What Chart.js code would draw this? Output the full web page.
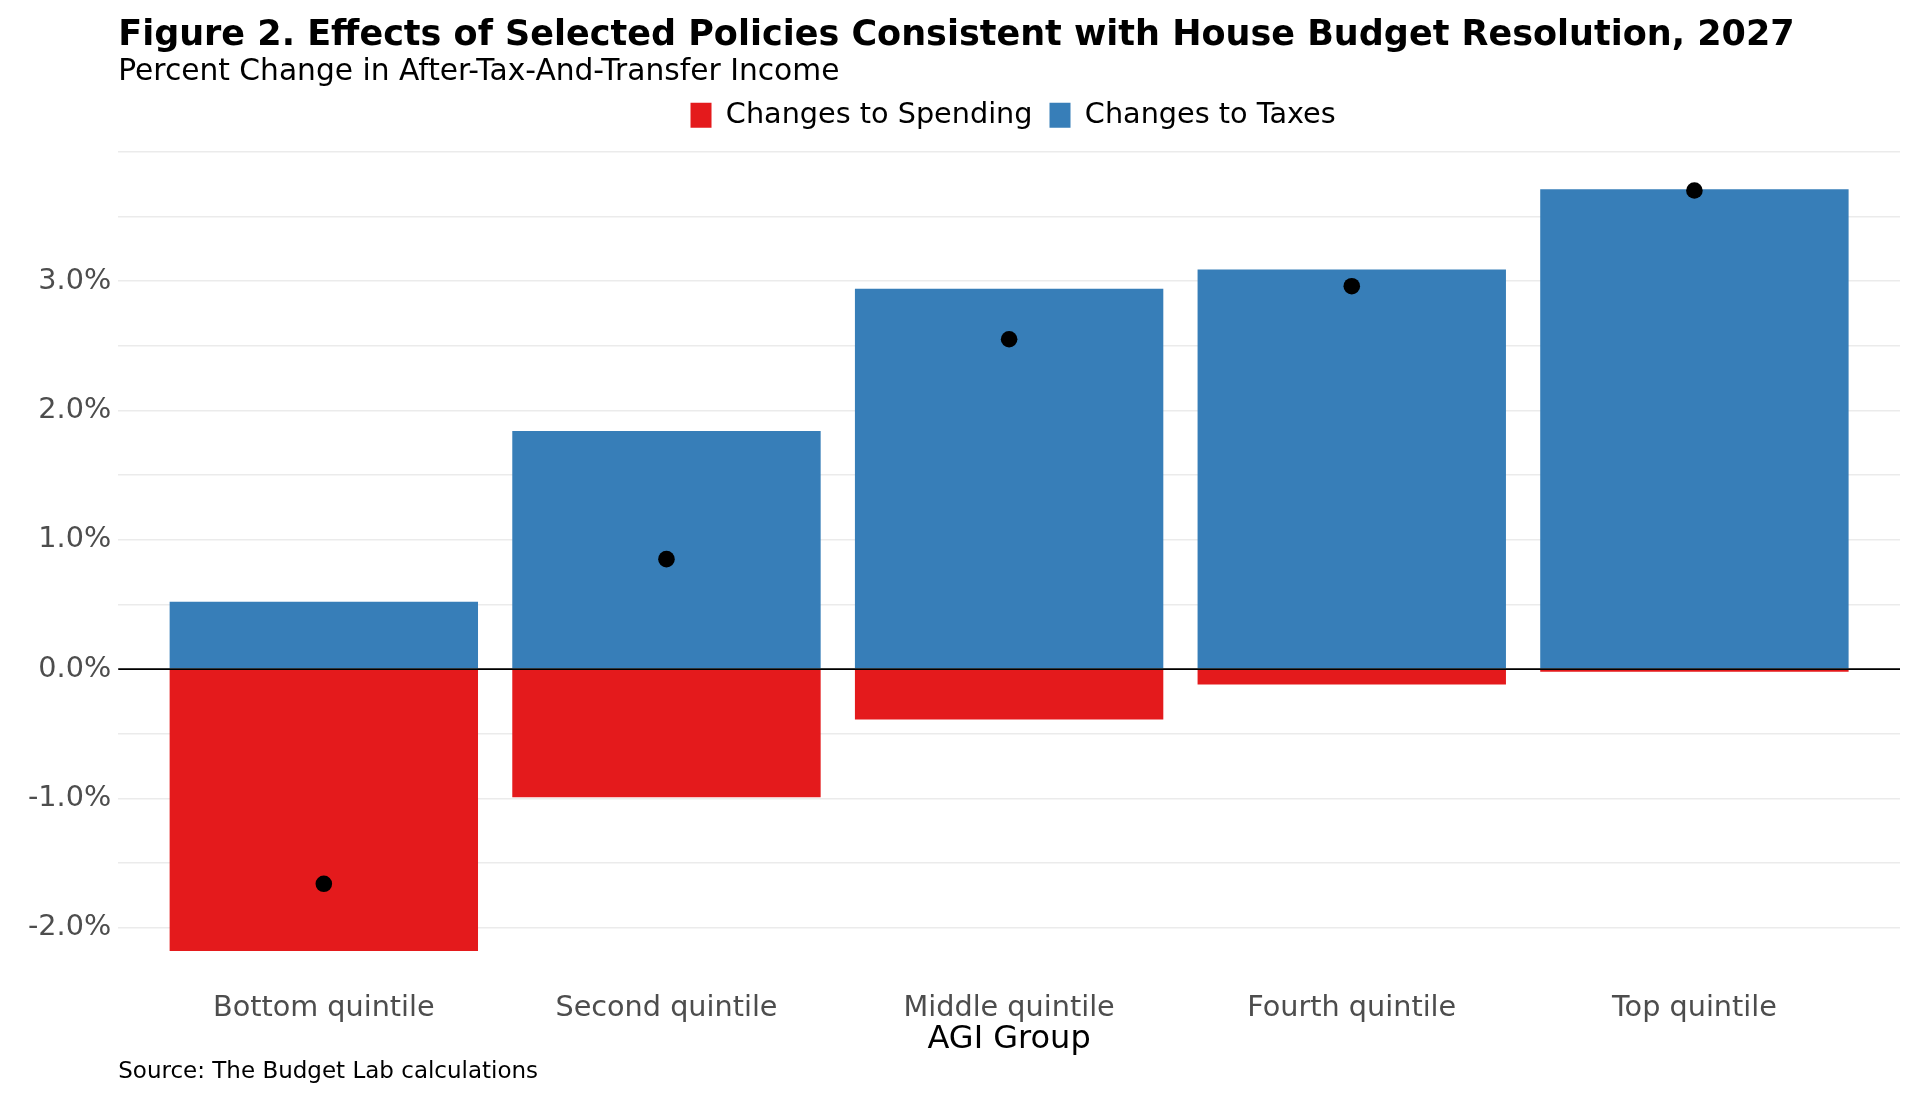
<!DOCTYPE html>
<html lang="en">
<head>
  <meta charset="UTF-8">
  <title>Figure 2. Effects of Selected Policies Consistent with House Budget Resolution, 2027</title>
  <script src="https://cdn.jsdelivr.net/npm/chart.js"></script>
  <style>
    html, body { margin: 0; padding: 0; background: #ffffff; }
    #wrap { width: 1920px; height: 1102px; }
  </style>
</head>
<body>
  <div id="wrap">
    <canvas id="policyChart" width="1920" height="1102"></canvas>
  </div>

  <script>
    // AGI groups and percent change in after-tax-and-transfer income
    const groups = ['Bottom quintile', 'Second quintile', 'Middle quintile', 'Fourth quintile', 'Top quintile'];
    const spending = [-2.18, -0.99, -0.39, -0.12, -0.02];
    const taxes = [0.52, 1.84, 2.94, 3.09, 3.71];
    const netChange = [-1.66, 0.85, 2.55, 2.96, 3.70];
    const yLabels = [-2, -1, 0, 1, 2, 3];

    const FONT = "'DejaVu Sans', sans-serif";

    // Titles, source note and the zero line
    const decorations = {
      id: 'decorations',
      afterLayout(chart) {
        // legend sits over the plot panel, a bit higher than the layout gives it
        const lg = chart.legend;
        const shift = (chart.chartArea.left + chart.chartArea.right) / 2 + 4 - (lg.left + lg.right) / 2;
        lg.left += shift;
        lg.right += shift;
        lg.top -= 12;
        lg.bottom -= 12;
      },
      afterDatasetsDraw(chart) {
        const { ctx, chartArea, scales } = chart;
        const y0 = scales.y.getPixelForValue(0);
        ctx.save();
        ctx.strokeStyle = '#000000';
        ctx.lineWidth = 1.6;
        ctx.beginPath();
        ctx.moveTo(chartArea.left, y0);
        ctx.lineTo(chartArea.right, y0);
        ctx.stroke();
        ctx.restore();
      },
      afterDraw(chart) {
        const { ctx, chartArea } = chart;
        ctx.save();
        ctx.fillStyle = '#000000';
        ctx.textAlign = 'left';
        ctx.textBaseline = 'alphabetic';
        ctx.font = 'bold 35px ' + FONT;
        ctx.fillText('Figure 2. Effects of Selected Policies Consistent with House Budget Resolution, 2027', chartArea.left, 45);
        ctx.font = '29.7px ' + FONT;
        ctx.fillText('Percent Change in After-Tax-And-Transfer Income', chartArea.left, 80);
        ctx.font = '23px ' + FONT;
        ctx.fillText('Source: The Budget Lab calculations', chartArea.left, 1078);
        ctx.restore();
      }
    };

    const ctx = document.getElementById('policyChart').getContext('2d');
    new Chart(ctx, {
      type: 'bar',
      data: {
        datasets: [
          {
            type: 'line',
            label: 'Net',
            data: netChange.map((v, i) => ({ x: i, y: v })),
            showLine: false,
            pointRadius: 8.3,
            pointHoverRadius: 8.3,
            pointBackgroundColor: '#000000',
            pointBorderWidth: 0,
            stack: 'net',
            order: 0
          },
          {
            label: 'Changes to Spending',
            data: spending.map((v, i) => ({ x: i, y: v })),
            backgroundColor: '#E41A1C',
            borderWidth: 0,
            categoryPercentage: 1,
            barPercentage: 0.9,
            stack: 'bars',
            order: 1
          },
          {
            label: 'Changes to Taxes',
            data: taxes.map((v, i) => ({ x: i, y: v })),
            backgroundColor: '#377EB8',
            borderWidth: 0,
            categoryPercentage: 1,
            barPercentage: 0.9,
            stack: 'bars',
            order: 1
          }
        ]
      },
      options: {
        responsive: false,
        animation: false,
        devicePixelRatio: 1,
        layout: { padding: { top: 96, left: 21, right: 20, bottom: 46 } },
        plugins: {
          legend: {
            position: 'top',
            labels: {
              filter: item => item.text !== 'Net',
              boxWidth: 21,
              boxHeight: 25,
              padding: 17,
              color: '#000000',
              font: { family: FONT, size: 28.7 },
              sort: (a, b) => a.datasetIndex - b.datasetIndex
            }
          },
          tooltip: { enabled: false },
          title: { display: false }
        },
        scales: {
          x: {
            type: 'linear',
            min: -0.6,
            max: 4.6,
            offset: false,
            stacked: true,
            afterBuildTicks: scale => { scale.ticks = groups.map((g, i) => ({ value: i })); },
            ticks: {
              callback: v => groups[v],
              font: { family: FONT, size: 28.7, lineHeight: 1.06 },
              color: '#4D4D4D',
              padding: -3.5,
              maxRotation: 0,
              autoSkip: false
            },
            grid: { display: false },
            border: { display: false },
            title: {
              display: true,
              text: 'AGI Group',
              color: '#000000',
              font: { family: FONT, size: 32, lineHeight: 1.0 },
              padding: { top: 4, bottom: 0 }
            }
          },
          y: {
            min: -2.47,
            max: 4.0,
            stacked: true,
            afterBuildTicks: scale => {
              const t = [];
              for (let v = -2; v <= 4.001; v += 0.5) t.push({ value: Math.round(v * 10) / 10 });
              scale.ticks = t;
            },
            ticks: {
              callback: v => (yLabels.includes(v) ? v.toFixed(1) + '%' : ''),
              font: { family: FONT, size: 28.7 },
              color: '#4D4D4D',
              padding: 7
            },
            grid: { color: '#EBEBEB', lineWidth: 1.6, drawTicks: false },
            border: { display: false }
          }
        }
      },
      plugins: [decorations]
    });
  </script>
</body>
</html>
